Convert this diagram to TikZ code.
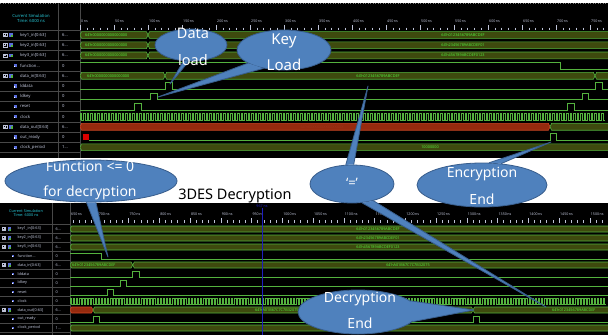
\documentclass[tikz,border=0pt]{standalone}
\usepackage{fontspec}
\setsansfont{Noto Sans}
\usetikzlibrary{positioning, calc, shapes.geometric}

\definecolor{wavegreen}{RGB}{84,178,62}
\definecolor{busolive}{RGB}{62,74,14}
\definecolor{valgreen}{RGB}{80,235,60}
\definecolor{xred}{RGB}{150,42,14}
\definecolor{xredline}{RGB}{205,70,35}
\definecolor{gridgray}{RGB}{72,72,72}
\definecolor{namegray}{RGB}{190,195,215}
\definecolor{headcyan}{RGB}{40,200,215}
\definecolor{iconblue}{RGB}{90,110,220}
\definecolor{calloutfill}{RGB}{79,129,189}
\definecolor{calloutline}{RGB}{56,93,140}
\definecolor{cursorblue}{RGB}{30,30,190}

\newcommand{\trail}{...}
% bus value between two transitions: x1, x2, row y, half height
\newcommand{\busseg}[4]{%
  \filldraw[fill=busolive, draw=wavegreen, line width=0.6pt]
    (#1,#3) -- (#1+1.6,#3-#4) -- (#2-1.6,#3-#4) -- (#2,#3) -- (#2-1.6,#3+#4) -- (#1+1.6,#3+#4) -- cycle;}
% unknown (X) bus value
\newcommand{\xseg}[4]{%
  \filldraw[fill=xred, draw=xredline, line width=0.6pt]
    (#1,#3) -- (#1+1.6,#3-#4) -- (#2-1.6,#3-#4) -- (#2,#3) -- (#2-1.6,#3+#4) -- (#1+1.6,#3+#4) -- cycle;}
% one bit signal, low with pulses pa/pb
\newcommand{\bitpulses}[4]{%
  \draw[trace] (#1,#2+#3) \foreach \pa/\pb in {#4} {
    -- (\pa,#2+#3) -- (\pa,#2-#3) -- (\pb,#2-#3) -- (\pb,#2+#3)} -- (612,#2+#3);}
% wedge of a callout from its ellipse to the tip
\newcommand{\calltail}[4]{%
  \fill[calloutfill] (#1.#2) -- (#4) -- (#1.#3) -- cycle;
  \draw[calloutline, line width=0.8pt, line join=round] (#1.#2) -- (#4) -- (#1.#3);}

\begin{document}
\begin{tikzpicture}[x=1pt, y=-1pt,
    callout/.style={ellipse, fill=calloutfill, draw=calloutline, line width=0.8pt, inner sep=0pt},
    callout text/.style={text=white, font=\sffamily\fontsize{14.5}{26.5}\selectfont, align=center, inner sep=0pt},
    title text/.style={text=black, font=\sffamily\fontsize{14.5}{17}\selectfont, inner sep=0pt},
    sig name/.style={text=namegray, font=\sffamily\fontsize{4.2}{5}\selectfont, anchor=west, inner sep=0pt},
    sig value/.style={text=namegray, font=\sffamily\fontsize{4.2}{5}\selectfont, anchor=west, inner sep=0pt},
    ruler label/.style={text=namegray, font=\sffamily\fontsize{3.6}{4}\selectfont, anchor=west, inner sep=0pt},
    bus text/.style={text=valgreen, font=\sffamily\fontsize{3.8}{4}\selectfont, inner sep=0pt},
    head text/.style={text=headcyan, font=\sffamily\bfseries\fontsize{4.2}{5}\selectfont, inner sep=0pt},
    trace/.style={draw=wavegreen, line width=0.6pt},
    grid line/.style={draw=gridgray, line width=0.4pt},
    tick/.style={draw=namegray, line width=0.35pt},
  ]
  % page and the two simulator panels
  \useasboundingbox[fill=white] (0,0) rectangle (608,335);
  \fill[black] (0,3) rectangle (608,158);
  \fill[black] (0,203) rectangle (608,335);
  \draw[gray, dotted, line width=0.5pt] (0,3) -- (608,3);

  %%%% encryption run (upper panel)
  \draw[grid line] (58,3) -- (58,158) (80,3) -- (80,158);
  \foreach \k in {0,...,12}
    \draw[grid line] (0,29.9+10.2*\k) -- (80,29.9+10.2*\k);
  \node[head text] (top_head) at (31,16) {Current Simulation};
  \node[head text, below=1.5pt of top_head] {Time: 6000 ns};

  % signal names
  \foreach \nm/\val [count=\r from 0] in {{key1\_in[0:63]}/{6\trail}, {key2\_in[0:63]}/{6\trail},
      {key3\_in[0:63]}/{6\trail}, {function\trail}/0, {data\_in[0:63]}/{6\trail}, lddata/0, ldkey/0,
      reset/0, clock/0, {data\_out[0:63]}/{6\trail}, {out\_ready}/0, {clock\_period}/{1\trail}} {
    \node[sig name] at (20,35+10.2*\r) {\nm};
    \node[sig value] at (62,35+10.2*\r) {\val};
  }
  \foreach \y in {35,45.2,55.4,75.8,126.8} {
    \draw[namegray, line width=0.3pt] (3.5,\y-1.6) rectangle (6.7,\y+1.6);
    \draw[namegray, line width=0.3pt] (4.1,\y) -- (6.1,\y) (5.1,\y-1) -- (5.1,\y+1);
    \fill[iconblue] (9,\y-1.8) rectangle (13,\y+1.8);
    \fill[wavegreen] (11,\y-0.4) rectangle (13,\y+1.8);
  }
  \foreach \y in {65.6,86,96.2,106.4,116.6,137,147.2} {
    \fill[iconblue] (13.5,\y-1.6) rectangle (16.5,\y+1.6);
    \fill[white] (13.5,\y+0.4) rectangle (14.7,\y+1.6);
  }

  % time ruler
  \foreach \k in {0,...,77}
    \draw[tick] (80+6.8*\k,27.5) -- (80+6.8*\k,30);
  \foreach \tm [count=\c from 0] in {0,50,...,750} {
    \draw[tick] (80+34*\c,25) -- (80+34*\c,30);
    \node[ruler label] at (81+34*\c,21) {\tm\,ns};
  }

  % waveforms
  \begin{scope}
    \clip (80,3) rectangle (608,158);
    \busseg{80}{148}{35}{3.4}   \busseg{148}{612}{35}{3.4}
    \busseg{80}{148}{45.2}{3.4} \busseg{148}{612}{45.2}{3.4}
    \busseg{80}{148}{55.4}{3.4} \busseg{148}{612}{55.4}{3.4}
    \node[bus text, anchor=west] at (85,35) {64'h0000000000000000};
    \node[bus text, anchor=west] at (85,45.2) {64'h0000000000000000};
    \node[bus text, anchor=west] at (85,55.4) {64'h0000000000000000};
    \node[bus text] at (463,35) {64'h0123456789ABCDEF};
    \node[bus text] at (463,45.2) {64'h23456789ABCDEF01};
    \node[bus text] at (463,55.4) {64'h456789ABCDEF0123};
    \draw[trace] (80,62.2) -- (560,62.2) -- (560,69) -- (612,69);
    \busseg{80}{165}{75.8}{3.4} \busseg{165}{595}{75.8}{3.4} \busseg{595}{612}{75.8}{3.4}
    \node[bus text, anchor=west] at (87,75.8) {64'h0000000000000000};
    \node[bus text] at (378,75.8) {64'h0123456789ABCDEF};
    \bitpulses{80}{86}{3.4}{165/172, 595/602}
    \bitpulses{80}{96.2}{3.4}{150/157, 582/588}
    \bitpulses{80}{106.4}{3.4}{134/141, 567/574}
    \draw[trace] (80,120) \foreach \k in {1,...,150} {
      -- ++(0,-6.8) -- ++(1.75,0) -- ++(0,6.8) -- ++(1.75,0)};
    \xseg{80}{550}{126.8}{3.4} \busseg{550}{612}{126.8}{3.4}
    \node[bus text, text=xredline!75!black] at (322,126.8) {64'hXXXXXXXXXXXXXXXX};
    \fill[red!85!black] (83,134) rectangle (89,140);
    \bitpulses{89}{137}{3.4}{550/556}
    \busseg{80}{612}{147.2}{3.4}
    \node[bus text] at (430,147.2) {10000000};
  \end{scope}

  %%%% decryption run (lower panel)
  \draw[grid line] (52,203) -- (52,335) (70,203) -- (70,335);
  \foreach \k in {0,...,12}
    \draw[grid line] (0,224.5+9*\k) -- (70,224.5+9*\k);
  \node[head text, font=\sffamily\bfseries\fontsize{3.8}{4}\selectfont] (bot_head) at (26,211) {Current Simulation};
  \node[head text, font=\sffamily\bfseries\fontsize{3.8}{4}\selectfont, below=1.3pt of bot_head] {Time: 6000 ns};

  \foreach \nm/\val [count=\r from 0] in {{key1\_in[0:63]}/{6\trail}, {key2\_in[0:63]}/{6\trail},
      {key3\_in[0:63]}/{6\trail}, {function\trail}/0, {data\_in[0:63]}/{6\trail}, lddata/0, ldkey/0,
      reset/0, clock/0, {data\_out[0:63]}/{6\trail}, {out\_ready}/0, {clock\_period}/{1\trail}} {
    \node[sig name, font=\sffamily\fontsize{3.8}{4}\selectfont] at (17.5,229+9*\r) {\nm};
    \node[sig value, font=\sffamily\fontsize{3.8}{4}\selectfont] at (55.5,229+9*\r) {\val};
  }
  \foreach \y in {229,238,247,265,310} {
    \draw[namegray, line width=0.3pt] (2.5,\y-1.4) rectangle (5.3,\y+1.4);
    \draw[namegray, line width=0.3pt] (3,\y) -- (4.8,\y) (3.9,\y-0.9) -- (3.9,\y+0.9);
    \fill[iconblue] (7.5,\y-1.6) rectangle (11,\y+1.6);
    \fill[wavegreen] (9.2,\y-0.3) rectangle (11,\y+1.6);
  }
  \foreach \y in {256,274,283,292,301,319,328} {
    \fill[iconblue] (11.5,\y-1.4) rectangle (14.2,\y+1.4);
    \fill[white] (11.5,\y+0.3) rectangle (12.6,\y+1.4);
  }

  \foreach \k in {0,...,87}
    \draw[tick] (73.1+6.15*\k,220) -- (73.1+6.15*\k,222.5);
  \node[ruler label] at (71,214.5) {650\,ns};
  \foreach \tm in {700,750,...,1500} {
    \pgfmathsetmacro\xt{70+0.615*(\tm-655)}
    \draw[tick] (\xt,218) -- (\xt,222.5);
    \node[ruler label] at (\xt+1,214.5) {\tm\,ns};
  }

  \begin{scope}
    \clip (70,203) rectangle (608,335);
    \busseg{70}{612}{229}{3} \busseg{70}{612}{238}{3} \busseg{70}{612}{247}{3}
    \node[bus text] at (378,229) {64'h0123456789ABCDEF};
    \node[bus text] at (378,238) {64'h23456789ABCDEF01};
    \node[bus text] at (378,247) {64'h456789ABCDEF0123};
    \draw[trace] (70,253) -- (101.4,253) -- (101.4,259) -- (612,259);
    \busseg{70}{132.7}{265}{3} \busseg{132.7}{612}{265}{3}
    \node[bus text, anchor=west] at (72,265) {64'h0123456789ABCDEF};
    \node[bus text] at (408,265) {64'hA01B67C7C7B32075};
    \bitpulses{70}{274}{3}{132.7/139.5}
    \bitpulses{70}{283}{3}{120/126}
    \bitpulses{70}{292}{3}{107.5/113.7}
    \draw[trace] (70,304) \foreach \k in {1,...,173} {
      -- ++(0,-6) -- ++(1.55,0) -- ++(0,6) -- ++(1.55,0)};
    \xseg{70}{93}{310}{3} \busseg{93}{473}{310}{3} \busseg{473}{612}{310}{3}
    \node[bus text, anchor=west] at (255,310) {64'hA01B67C7C7B32075};
    \node[bus text, anchor=west] at (552,310) {64'h0123456789ABCDEF};
    \bitpulses{70}{319}{3}{93/99.5, 473/479.5}
    \busseg{70}{612}{328}{3}
  \end{scope}

  % cursor
  \node[text=cursorblue, font=\sffamily\fontsize{3.6}{4}\selectfont, inner sep=0.4pt] (cursor_time) at (262,206.5) {967 ns};
  \coordinate (cursor_end) at (262,335);
  \draw[cursorblue, line width=0.9pt] (cursor_time.south) -- (cursor_end);

  %%%% callouts
  \node[callout, minimum width=72pt, minimum height=32pt] (data_load) at (191,45) {};
  \node[callout, minimum width=94pt, minimum height=40pt] (key_load) at (284,50) {};
  \node[callout, minimum width=84pt, minimum height=38pt] (equal_sign) at (352,184) {};
  \node[callout, minimum width=130pt, minimum height=44pt] (enc_end) at (482,185) {};
  \node[callout, minimum width=172pt, minimum height=42pt] (func_zero) at (91,181) {};
  \node[callout, minimum width=120pt, minimum height=44pt] (dec_end) at (358,312) {};

  % tips
  \coordinate (data_load_tip) at (170,84);
  \coordinate (key_load_tip) at (158,97);
  \coordinate (equal_sign_up) at (368,86);
  \coordinate (equal_sign_down) at (546,307);
  \coordinate (enc_end_tip) at (551,142);
  \coordinate (func_zero_tip) at (108,257);
  \coordinate (dec_end_tip) at (474,310);

  \calltail{data_load}{245}{262}{data_load_tip}
  \calltail{key_load}{200}{222}{key_load_tip}
  \calltail{equal_sign}{85}{108}{equal_sign_up}
  \calltail{equal_sign}{298}{322}{equal_sign_down}
  \calltail{enc_end}{48}{72}{enc_end_tip}
  \calltail{func_zero}{258}{283}{func_zero_tip}
  \calltail{dec_end}{350}{12}{dec_end_tip}

  % callout texts
  \node[callout text] (data_load_text) at (193,47) {Data\\load};
  \node[callout text, font=\sffamily\fontsize{15}{26}\selectfont] (key_load_text) at (284,52) {Key\\Load};
  \node[callout text, font=\sffamily\fontsize{13}{15}\selectfont] (equal_sign_text) at (352,183) {`='};
  \node[callout text, font=\sffamily\fontsize{14}{27}\selectfont] (enc_end_text) at (482,186) {Encryption\\End};
  \node[callout text, font=\sffamily\fontsize{14}{26}\selectfont] (dec_end_text) at (360,310) {Decryption\\End};
  \begin{scope}
    \clip (0,158) rectangle (608,203);
    \node[callout text, font=\sffamily\fontsize{14}{25}\selectfont] (func_zero_text) at (90,181) {Function <= 0\\for decryption};
    \node[title text] (dec_title) at (235,196) {3DES Decryption};
  \end{scope}
\end{tikzpicture}
\end{document}
